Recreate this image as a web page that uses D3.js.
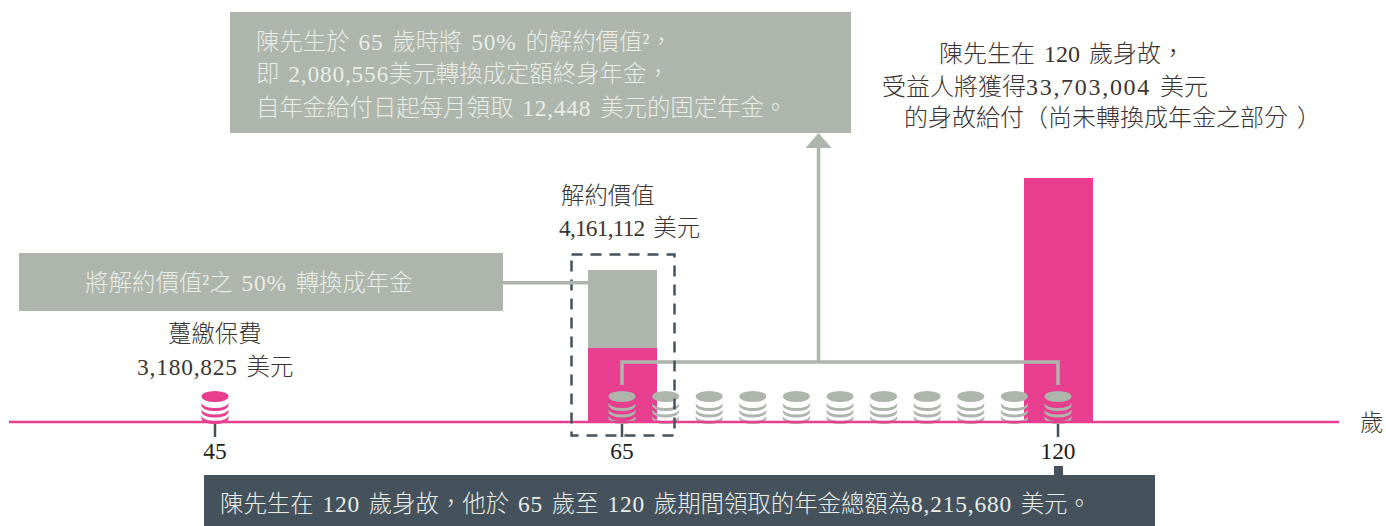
<!DOCTYPE html>
<html>
<head>
<meta charset="utf-8">
<script src="https://cdn.jsdelivr.net/npm/d3@7"></script>
<style>
body{margin:0;background:#fff}
text{font-family:"Liberation Serif","Noto Sans CJK TC",serif;font-weight:300;font-size:23.4px;fill:#3a3533;word-spacing:3px}
.light{fill:#e9ece7}
.big{font-size:24px}
</style>
</head>
<body>
<div id="chart"></div>
<script>
// values
const tickAges=[45,65,120];
const coinAges=[65,70.5,76,81.5,87,92.5,98,103.5,109,114.5,120];
const surrenderValue=4161112;
const convertedValue=2080556;
const deathBenefit=33703004;

const opt={width:1386,height:526,base:422}
const pink="#e83e8f",grey="#adb5ac",dark="#45525b";

// the chart is a schematic, neither scale is to proportion
const xScale=d3.scaleLinear()
  .domain([45,65,120])
  .range([215,622,1058]);
const yScale=d3.scaleLinear()
  .domain([0,convertedValue,surrenderValue,deathBenefit])
  .range([opt.base,348,270,178]);

const svg=d3.select("#chart")
  .append("svg")
  .attr("width",opt.width)
  .attr("height",opt.height)
  .style("display","block");

function box(x,y,w,h,fill){
  svg.append("rect").attr("x",x).attr("y",y).attr("width",w).attr("height",h).attr("fill",fill);
}
// digits get their own spacing, the reference face is wider than Liberation
function label(x,y,str,anchor,cls,digitGap){
  const gap=digitGap===undefined?0.8:digitGap;
  const t=svg.append("text").attr("x",x).attr("y",y)
    .attr("text-anchor",anchor||"start")
    .attr("class",cls||null);
  str.split(/([0-9,%]+)/).forEach((part,i)=>{
    if(!part) return;
    t.append("tspan")
      .style("letter-spacing",i%2?gap+"px":null)
      .text(part);
  });
  return t;
}

// bars
const bars=[
  {age:65,from:convertedValue,to:surrenderValue,color:grey},
  {age:65,from:0,to:convertedValue,color:pink},
  {age:120,from:0,to:deathBenefit,color:pink}
];
svg.selectAll("rect.bar")
  .data(bars)
  .enter()
  .append("rect")
  .attr("class","bar")
  .attr("x",(d)=>{
    return xScale(d.age)-34;
  })
  .attr("width",69)
  .attr("y",(d)=>{
    return yScale(d.to);
  })
  .attr("height",(d)=>{
    return yScale(d.from)-yScale(d.to);
  })
  .attr("fill",(d)=>{
    return d.color;
  });

// coins
function coin(age,color){
  const g=svg.append("g").attr("transform","translate("+xScale(age)+",0)");
  g.append("ellipse").attr("cx",0).attr("cy",396.5).attr("rx",13.5).attr("ry",5.5).attr("fill",color);
  [402.5,409,415.5].forEach((y)=>{
    g.append("path")
      .attr("d","M-13.5,"+y+"A13.5,5.5 0 0 0 13.5,"+y+"V"+(y+3)+"A13.5,5.5 0 0 1 -13.5,"+(y+3)+"Z")
      .attr("fill",color);
  });
}
coin(45,pink);
coinAges.forEach((a)=>{
  coin(a,grey);
});

// axis
svg.append("line")
  .attr("x1",9).attr("x2",1339)
  .attr("y1",opt.base).attr("y2",opt.base)
  .attr("stroke",pink).attr("stroke-width",2.5);

svg.selectAll("line.tick")
  .data(tickAges)
  .enter()
  .append("line")
  .attr("class","tick")
  .attr("x1",(d)=>{return xScale(d);})
  .attr("x2",(d)=>{return xScale(d);})
  .attr("y1",opt.base+2)
  .attr("y2",opt.base+15)
  .attr("stroke",dark)
  .attr("stroke-width",2.5);

svg.selectAll("text.age")
  .data(tickAges)
  .enter()
  .append("text")
  .attr("class","age")
  .attr("x",(d)=>{return xScale(d);})
  .attr("y",459)
  .attr("text-anchor","middle")
  .style("fill","#221c1a")
  .text((d)=>{return d;});

label(1360,431,"歲");

// connector from the two ends up to the arrow
const arrowX=818.5;
svg.append("path")
  .attr("d","M"+xScale(65)+",385V362H"+xScale(120)+"V385")
  .attr("fill","none").attr("stroke",grey).attr("stroke-width",3.5);
svg.append("line")
  .attr("x1",arrowX).attr("x2",arrowX).attr("y1",362).attr("y2",146)
  .attr("stroke",grey).attr("stroke-width",3.5);
svg.append("path")
  .attr("d","M"+(arrowX-13)+",148L"+arrowX+",133L"+(arrowX+13)+",148Z")
  .attr("fill",grey);

// dashed frame round the 65 bar
svg.append("rect")
  .attr("x",571.5).attr("y",254.5).attr("width",103).attr("height",181)
  .attr("fill","none").attr("stroke",dark).attr("stroke-width",2.5)
  .attr("stroke-dasharray","11 8");

// boxes
box(230,12,621,121,grey);
box(19,253,484,58,grey);
box(503,281,85,3.5,grey);
box(204,475,951,51,dark);
box(1054,466,9,9,dark);

// text
label(256,50,"陳先生於 65 歲時將 50% 的解約價值²\uFF0C",null,"light");
label(256,82,"即 2,080,556美元轉換成定額終身年金\uFF0C",null,"light");
label(256,116,"自年金給付日起每月領取 12,448 美元的固定年金。",null,"light");
label(249,291,"將解約價值²之 50% 轉換成年金","middle","light");
label(220,512,"陳先生在 120 歲身故\uFF0C他於 65 歲至 120 歲期間領取的年金總額為8,215,680 美元。",null,"light");

label(939,62,"陳先生在 120 歲身故\uFF0C",null,"big",0);
label(882,95,"受益人將獲得33,703,004 美元",null,"big",1.7);
label(904,126,"的身故給付\uFF08尚未轉換成年金之部分 \uFF09",null,"big");

label(561,204,"解約價值");
label(559,236,"4,161,112 美元",null,null,-0.8);
label(168,342,"躉繳保費");
label(137,375,"3,180,825 美元");
</script>
</body>
</html>
